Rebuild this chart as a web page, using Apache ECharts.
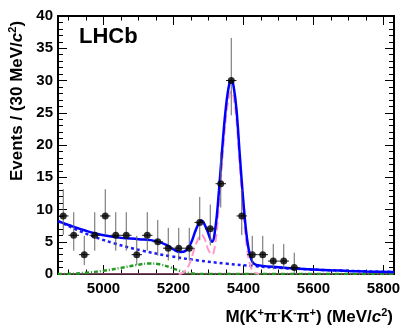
<!DOCTYPE html>
<html>
<head>
<meta charset="utf-8">
<script src="https://cdn.jsdelivr.net/npm/echarts@6/dist/echarts.min.js"></script>
<style>
html, body { margin: 0; padding: 0; background: #fff; }
#chart { width: 415px; height: 328px; }
</style>
</head>
<body>
<div id="chart"></div>
<script>
// binned data, 30 MeV bins
const binCenters = [4885, 4915, 4945, 4975, 5005, 5035, 5065, 5095, 5125, 5155, 5185, 5215, 5245, 5275, 5305, 5335,
    5365, 5395, 5425, 5455, 5485, 5515, 5545, 5575, 5605, 5635, 5665, 5695, 5725, 5755, 5785, 5815];
const counts = [9, 6, 3, 6, 9, 6, 6, 3, 6, 5, 4, 4, 4, 8, 7, 14, 30, 9, 3, 3, 2, 2, 1, 0, 0, 0, 0, 0, 0, 0, 0, 0];
const errLow = [6.06, 3.62, 1.37, 3.62, 6.06, 3.62, 3.62, 1.37, 3.62, 2.84, 2.09, 2.09, 2.09, 5.23, 4.42, 10.3,
    24.6, 6.06, 1.37, 1.37, 0.71, 0.71, 0.17, 0, 0, 0, 0, 0, 0, 0, 0, 0];
const errHigh = [13.14, 9.58, 5.92, 9.58, 13.14, 9.58, 9.58, 5.92, 9.58, 8.38, 7.16, 7.16, 7.16, 11.95, 10.77, 18.84,
    36.6, 13.14, 5.92, 5.92, 4.64, 4.64, 3.3, 0, 0, 0, 0, 0, 0, 0, 0, 0];
const binHalfWidth = 15;

// total fit (blue solid)
const totalMass = [4870, 4900, 4950, 5000, 5050, 5100, 5150, 5180, 5200, 5220, 5235, 5250, 5265, 5280, 5295, 5310,
    5320, 5330, 5340, 5350, 5360, 5366, 5372, 5380, 5390, 5400, 5410, 5420, 5430, 5450, 5500, 5550, 5600, 5650,
    5700, 5750, 5830];
const totalFit = [8.2, 7.6, 6.7, 6.0, 5.6, 5.4, 5.1, 4.5, 3.8, 3.4, 3.6, 4.8, 7.0, 8.3, 6.9, 5.0,
    7.3, 13.0, 20.0, 26.0, 29.6, 30.0, 29.0, 25.5, 18.0, 11.0, 5.5, 2.6, 1.6, 1.3, 1.05, 0.85, 0.7, 0.58,
    0.48, 0.4, 0.3];

// combinatorial background (blue dotted)
const combMass = [4870, 4950, 5030, 5110, 5190, 5270, 5350, 5430, 5510, 5590, 5670, 5750, 5830];
const combFit = [8.2, 6.25, 4.76, 3.63, 2.77, 2.11, 1.61, 1.22, 0.93, 0.71, 0.54, 0.41, 0.31];

// signal peaks (pink dashed)
const sigMass = [5215, 5230, 5245, 5260, 5270, 5280, 5290, 5300, 5310, 5320, 5330, 5340, 5350, 5360, 5366, 5372,
    5380, 5390, 5400, 5410, 5420, 5430, 5445];
const sigFit = [0, 0.3, 1.5, 4.0, 5.4, 6.1, 5.3, 3.7, 3.0, 5.0, 10.8, 18.0, 24.2, 27.8, 28.3, 27.3,
    23.8, 16.3, 9.4, 4.0, 1.2, 0.3, 0];

// partially reconstructed background (green dash-dot)
const partMass = [4870, 4900, 4950, 5000, 5050, 5100, 5130, 5160, 5190, 5220, 5250, 5280, 5830];
const partFit = [0, 0.02, 0.2, 0.5, 0.95, 1.45, 1.62, 1.5, 1.05, 0.45, 0.1, 0, 0];

// negligible component along zero (pink solid)
const otherMass = [4870, 5830];
const otherFit = [0, 0];

const xMajorTicks = [5000, 5200, 5400, 5600, 5800];
const xMinorTicks = [4900, 4950, 5000, 5050, 5100, 5150, 5200, 5250, 5300, 5350, 5400, 5450, 5500, 5550,
    5600, 5650, 5700, 5750, 5800];

const font = "'Liberation Sans', Arial, Helvetica, sans-serif";

function pairs(xs, ys) {
    return xs.map((x, i) => [x, ys[i]]);
}

const points = [];
const bars = [];
binCenters.forEach((m, i) => {
    if (counts[i] > 0) {
        points.push([m, counts[i]]);
        bars.push([m, errLow[i], errHigh[i], counts[i]]);
    }
});

function xAxisDef(position, ticks, len, labels) {
    return {
        type: 'value',
        min: 4870,
        max: 5830,
        position: position,
        axisLine: { show: true, onZero: false, lineStyle: { color: '#000', width: 2 } },
        axisTick: { show: true, inside: true, length: len, customValues: ticks, lineStyle: { color: '#000', width: 1 } },
        axisLabel: labels ? {
            customValues: xMajorTicks, formatter: v => String(v),
            color: '#000', fontSize: 15, fontWeight: 'bold', fontFamily: font, margin: 7
        } : { show: false },
        splitLine: { show: false }
    };
}

function yAxisDef(position, labels) {
    return {
        type: 'value',
        min: 0,
        max: 40,
        interval: 5,
        position: position,
        axisLine: { show: true, onZero: false, lineStyle: { color: '#000', width: 2 } },
        axisTick: { show: true, inside: true, length: 9, lineStyle: { color: '#000', width: 1 } },
        minorTick: { show: true, splitNumber: 5, length: 5, lineStyle: { color: '#000', width: 1 } },
        axisLabel: labels ? {
            color: '#000', fontSize: 15, fontWeight: 'bold', fontFamily: font, margin: 5
        } : { show: false },
        splitLine: { show: false },
        minorSplitLine: { show: false }
    };
}

const chart = echarts.init(document.getElementById('chart'));
chart.setOption({
    animation: false,
    backgroundColor: '#fff',
    grid: { left: 58, top: 16, right: 21, bottom: 54 },
    xAxis: [
        xAxisDef('bottom', xMajorTicks, 9, true),
        xAxisDef('bottom', xMinorTicks, 4.5, false),
        xAxisDef('top', xMajorTicks, 9, false),
        xAxisDef('top', xMinorTicks, 4.5, false)
    ],
    yAxis: [yAxisDef('left', true), yAxisDef('right', false)],
    graphic: [
        {
            type: 'text', x: 79, y: 37, z: 10,
            style: { text: 'LHCb', fill: '#000', font: 'bold 22px ' + font, align: 'left', verticalAlign: 'middle' }
        },
        {
            type: 'text', x: 393, y: 317, z: 10,
            style: {
                text: '{n|M(K}{s|+}{n|π}{s|-}{n|K}{s|-}{n|π}{s|+}{n|) (MeV/}{i|c}{s|2}{n|)}',
                align: 'right', verticalAlign: 'middle',
                rich: {
                    n: { fontSize: 17, fontWeight: 'bold', fontFamily: font, fill: '#000', lineHeight: 20 },
                    i: { fontSize: 17, fontWeight: 'bold', fontStyle: 'italic', fontFamily: font, fill: '#000', lineHeight: 20 },
                    s: { fontSize: 11, fontWeight: 'bold', fontFamily: font, fill: '#000', verticalAlign: 'top', lineHeight: 20 }
                }
            }
        },
        {
            type: 'text', x: 17, y: 101, rotation: Math.PI / 2, z: 10,
            style: {
                text: '{n|Events / (30 MeV/}{i|c}{s|2}{n|)}',
                align: 'center', verticalAlign: 'middle',
                rich: {
                    n: { fontSize: 17, fontWeight: 'bold', fontFamily: font, fill: '#000', lineHeight: 20 },
                    i: { fontSize: 17, fontWeight: 'bold', fontStyle: 'italic', fontFamily: font, fill: '#000', lineHeight: 20 },
                    s: { fontSize: 11, fontWeight: 'bold', fontFamily: font, fill: '#000', verticalAlign: 'top', lineHeight: 20 }
                }
            }
        }
    ],
    series: [
        {
            type: 'line', data: pairs(otherMass, otherFit), showSymbol: false, z: 3,
            lineStyle: { color: '#ff88cc', width: 1 }
        },
        {
            type: 'line', data: pairs(partMass, partFit), showSymbol: false, smooth: 0.4, z: 4,
            lineStyle: { color: '#1f9a1f', width: 2.5, type: [4, 2, 1, 2] }
        },
        {
            type: 'line', data: pairs(combMass, combFit), showSymbol: false, smooth: 0.4, z: 5,
            lineStyle: { color: '#1a1aff', width: 2.5, type: [3, 3] }
        },
        {
            type: 'line', data: pairs(sigMass, sigFit), showSymbol: false, smooth: 0.4, z: 6,
            lineStyle: { color: '#ff99cc', width: 2, type: [8, 4] }
        },
        {
            type: 'line', data: pairs(totalMass, totalFit), showSymbol: false, smooth: 0.4, z: 7,
            lineStyle: { color: '#0000ff', width: 2.5 }
        },
        {
            type: 'custom', data: bars, z: 8,
            encode: { x: 0, y: [1, 2, 3] },
            renderItem: function (params, api) {
                const m = api.value(0);
                const lo = api.coord([m, api.value(1)]);
                const hi = api.coord([m, api.value(2)]);
                const left = api.coord([m - binHalfWidth, api.value(3)]);
                const right = api.coord([m + binHalfWidth, api.value(3)]);
                return {
                    type: 'group',
                    children: [
                        { type: 'line', shape: { x1: lo[0], y1: lo[1], x2: hi[0], y2: hi[1] }, style: { stroke: '#666', lineWidth: 1 } },
                        { type: 'line', shape: { x1: left[0], y1: left[1], x2: right[0], y2: right[1] }, style: { stroke: '#222', lineWidth: 1 } }
                    ]
                };
            }
        },
        {
            type: 'scatter', data: points, symbolSize: 7, z: 9,
            itemStyle: { color: '#000' }
        }
    ]
});
</script>
</body>
</html>
